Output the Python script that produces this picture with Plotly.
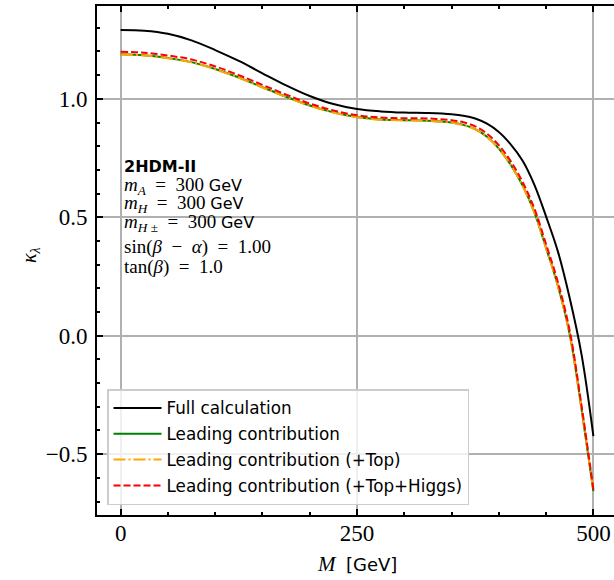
import plotly.graph_objects as go

M = [0, 25, 50, 75, 100, 125, 150, 175, 200, 225, 250, 275, 300, 325, 350, 362.5, 375,
     387.5, 400, 412.5, 425, 437.5, 450, 462.5, 475, 487.5, 500]

full = [1.291, 1.288, 1.275, 1.247, 1.206, 1.160, 1.108, 1.057, 1.012, 0.978, 0.957,
        0.947, 0.942, 0.940, 0.935, 0.929, 0.917, 0.895, 0.860, 0.808, 0.740, 0.638,
        0.503, 0.355, 0.158, -0.080, -0.424]

leading = [1.188, 1.184, 1.172, 1.155, 1.126, 1.090, 1.049, 1.009, 0.972, 0.943, 0.923,
           0.913, 0.910, 0.908, 0.900, 0.890, 0.872, 0.840, 0.790, 0.722, 0.635, 0.522,
           0.370, 0.210, 0.005, -0.310, -0.656]

leading_top = [1.187, 1.183, 1.171, 1.154, 1.125, 1.089, 1.048, 1.008, 0.971, 0.942, 0.922,
               0.912, 0.909, 0.907, 0.899, 0.889, 0.871, 0.839, 0.789, 0.721, 0.634, 0.521,
               0.369, 0.209, 0.004, -0.311, -0.657]

leading_top_higgs = [1.199, 1.195, 1.183, 1.166, 1.137, 1.100, 1.059, 1.018, 0.980, 0.951,
                     0.931, 0.921, 0.918, 0.917, 0.910, 0.901, 0.884, 0.853, 0.804, 0.737,
                     0.650, 0.538, 0.386, 0.226, 0.020, -0.296, -0.649]

names = ["Full calculation", "Leading contribution", "Leading contribution (+Top)",
         "Leading contribution (+Top+Higgs)"]

SER = "Liberation Serif"
SANS = "DejaVu Sans"
info_lines = [
    "<b>2HDM-II</b>",
    f"<span style='font-family:{SER};font-size:19px'><i>m</i><sub><i>A</i></sub>  =  300 </span>GeV",
    f"<span style='font-family:{SER};font-size:19px'><i>m</i><sub><i>H</i></sub>  =  300 </span>GeV",
    f"<span style='font-family:{SER};font-size:19px'><i>m</i><sub><i>H</i> ±</sub>  =  300 </span>GeV",
    f"<span style='font-family:{SER};font-size:19px'>sin(<i>β</i>  −  <i>α</i>)  =  1.00</span>",
    f"<span style='font-family:{SER};font-size:19px'>tan(<i>β</i>)  =  1.0</span>",
]
info_y_px = [166, 186, 204, 223, 246.7, 266.7]

fig = go.Figure()
series = [full, leading, leading_top, leading_top_higgs]
colors = ["black", "#008000", "#FFA500", "#FF0000"]
dashes = ["solid", "solid", "12px,3px,2px,3px", "7px,3px"]
for i, (y, c, d, n) in enumerate(zip(series, colors, dashes, names)):
    fig.add_trace(go.Scatter(x=M, y=y, mode="lines", name=n, legendgroup=str(i),
                             line=dict(color=c, width=2, dash=d, shape="spline", smoothing=1.0)))

W, H = 614, 580
L, R, T, B = 97, 0, 6, 65
ph = H - T - B
pw = W - L - R

for txt, py in zip(info_lines, info_y_px):
    fig.add_annotation(x=(122 - L) / pw, y=(H - B - py) / ph, xref="paper", yref="paper",
                       xanchor="left", yanchor="middle", showarrow=False, text=txt,
                       font=dict(family=SANS, size=16, color="black"))

# axis titles
fig.add_annotation(x=(357 - L) / pw, y=(H - B - 564) / ph, xref="paper", yref="paper",
                   xanchor="center", yanchor="middle", showarrow=False,
                   text=f"<i>M</i>  <span style='font-family:{SANS};font-size:18px'>[GeV]</span>",
                   font=dict(family=SER, size=21, color="black"))
fig.add_annotation(x=(30 - L) / pw, y=(H - B - 255) / ph, xref="paper", yref="paper",
                   xanchor="center", yanchor="middle", showarrow=False, textangle=-90,
                   text="<i>κ</i><sub><i>λ</i></sub>",
                   font=dict(family=SER, size=20, color="black"))

fig.update_layout(
    width=W, height=H, margin=dict(l=L, r=R, t=T, b=B, autoexpand=False),
    plot_bgcolor="white", paper_bgcolor="white",
    showlegend=True,
    legend=dict(x=(107 - L) / pw, y=(H - B - 505) / ph, xanchor="left", yanchor="bottom",
                bgcolor="rgba(255,255,255,0.8)", bordercolor="#cccccc", borderwidth=1.5,
                font=dict(family=SANS, size=16.8, color="black"),
                itemwidth=48, tracegroupgap=1),
    font=dict(family=SER, color="black"),
)

fig.update_xaxes(range=[-25, 521.8], tickvals=[0, 250, 500], ticktext=["0", "250", "500"],
                 ticks="inside", ticklen=6, tickwidth=1.5, tickcolor="black",
                 showline=True, linewidth=2, linecolor="black", mirror="ticks",
                 showgrid=True, gridcolor="#b0b0b0", gridwidth=1.5, zeroline=False,
                 minor=dict(dtick=50, tick0=0, ticks="inside", ticklen=3, tickcolor="black", showgrid=False),
                 tickfont=dict(family=SER, size=23), automargin=False, ticklabelstandoff=-4)

fig.update_yaxes(range=[-0.757, 1.392], tickvals=[-0.5, 0.0, 0.5, 1.0],
                 ticktext=["−0.5", "0.0", "0.5", "1.0"],
                 ticks="inside", ticklen=6, tickwidth=1.5, tickcolor="black",
                 showline=True, linewidth=2, linecolor="black", mirror=False,
                 showgrid=True, gridcolor="#b0b0b0", gridwidth=1.5, zeroline=False,
                 minor=dict(dtick=0.1, tick0=0, ticks="inside", ticklen=3, tickcolor="black", showgrid=False),
                 tickfont=dict(family=SER, size=23), automargin=False, ticklabelstandoff=3)

fig.write_html("out.html", config={"displayModeBar": False},
               post_script="document.body.style.margin='0';")
